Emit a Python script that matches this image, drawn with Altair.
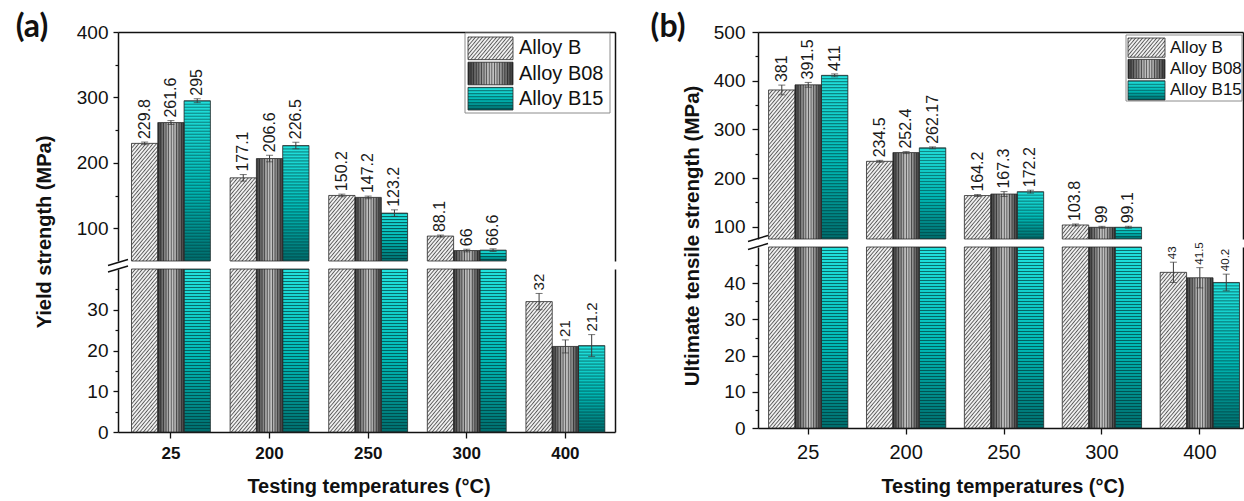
import base64
import altair as alt
import pandas as pd

# ---------------- data ----------------
temps = ["25", "200", "250", "300", "400"]
alloys = ["Alloy B", "Alloy B08", "Alloy B15"]

ys_b = [229.8, 177.1, 150.2, 88.1, 32]
ys_b08 = [261.6, 206.6, 147.2, 66, 21]
ys_b15 = [295, 226.5, 123.2, 66.6, 21.2]
ys_err_b = [2.0, 5.0, 2.0, 1.5, 2.0]
ys_err_b08 = [3.0, 5.0, 2.0, 2.0, 1.6]
ys_err_b15 = [3.0, 5.0, 5.0, 2.0, 2.7]

uts_b = [381, 234.5, 164.2, 103.8, 43]
uts_b08 = [391.5, 252.4, 167.3, 99, 41.5]
uts_b15 = [411, 262.17, 172.2, 99.1, 40.2]
uts_err_b = [10.0, 2.0, 2.0, 2.0, 2.8]
uts_err_b08 = [5.0, 2.0, 5.0, 2.0, 2.8]
uts_err_b15 = [3.0, 2.0, 3.0, 2.0, 2.3]

rows = []
for panel, vals, errs in [
    ("a", [ys_b, ys_b08, ys_b15], [ys_err_b, ys_err_b08, ys_err_b15]),
    ("b", [uts_b, uts_b08, uts_b15], [uts_err_b, uts_err_b08, uts_err_b15]),
]:
    for alloy, vs, es in zip(alloys, vals, errs):
        for t, v, e in zip(temps, vs, es):
            rows.append({"panel": panel, "temp": t, "alloy": alloy,
                         "value": v, "err": e, "label": str(v)})
df = pd.DataFrame(rows)
deco = pd.DataFrame({"k": [0]})

# ---------------- styles ----------------
FONT = "Arial, 'Liberation Sans', sans-serif"
W, H = 1244, 501
INK = "#111111"


def svg_uri(body):
    svg = '<svg xmlns="http://www.w3.org/2000/svg">' + body + "</svg>"
    return "data:image/svg+xml;base64," + base64.b64encode(svg.encode()).decode()


PAT = {
    "Alloy B": svg_uri(
        '<defs><pattern id="p" width="2.7" height="2.7" patternUnits="userSpaceOnUse" '
        'patternTransform="rotate(40)"><rect width="2.7" height="2.7" fill="#efefef"/>'
        '<rect width="0.9" height="2.7" fill="#5a5a5a"/></pattern></defs>'
        '<rect width="100%" height="100%" fill="url(#p)"/>'),
    "Alloy B08": svg_uri(
        '<defs><linearGradient id="g" x1="0" y1="0" x2="1" y2="0">'
        '<stop offset="0" stop-color="#3a3a3a"/><stop offset="0.45" stop-color="#bcbcbc"/>'
        '<stop offset="0.6" stop-color="#c2c2c2"/><stop offset="1" stop-color="#383838"/></linearGradient>'
        '<pattern id="p" width="2.6" height="8" patternUnits="userSpaceOnUse">'
        '<rect width="0.8" height="8" fill="#161616" fill-opacity="0.7"/></pattern></defs>'
        '<rect width="100%" height="100%" fill="url(#g)"/>'
        '<rect width="100%" height="100%" fill="url(#p)"/>'),
    "Alloy B15": svg_uri(
        '<defs><linearGradient id="g" x1="0" y1="0" x2="0" y2="1">'
        '<stop offset="0" stop-color="#22e2de"/><stop offset="0.55" stop-color="#00b8b4"/>'
        '<stop offset="1" stop-color="#006c6c"/></linearGradient>'
        '<pattern id="p" width="8" height="3" patternUnits="userSpaceOnUse">'
        '<rect width="8" height="0.9" fill="#003636" fill-opacity="0.75"/></pattern></defs>'
        '<rect width="100%" height="100%" fill="url(#g)"/>'
        '<rect width="100%" height="100%" fill="url(#p)"/>'),
}
FLAT = ["#cfcfcf", "#7c7c7c", "#14a8a8"]

PANELS = {
    "a": dict(x=(118, 615), pi=0.2, po=0.12, align=0.57,
              up_dom=(50, 400), up_rng=(261, 32), lo_dom=(0, 40), lo_rng=(432, 269),
              up_major=[100, 200, 300, 400], up_minor=[150, 250, 350],
              lo_major=[0, 10, 20, 30], lo_minor=[5, 15, 25, 35],
              ytick=5, ylab=19, ypad=5, xlab=17, xweight="bold", xpad=7,
              lab_up=16, lab_lo=15),
    "b": dict(x=(758, 1243), pi=0.19, po=0.072, align=0.75,
              up_dom=(75, 500), up_rng=(239, 32), lo_dom=(0, 50), lo_rng=(428, 247),
              up_major=[100, 200, 300, 400, 500], up_minor=[150, 250, 350, 450],
              lo_major=[0, 10, 20, 30, 40], lo_minor=[5, 15, 25, 35, 45],
              ytick=6, ylab=19, ypad=7, xlab=20, xweight="normal", xpad=8,
              lab_up=16, lab_lo=11.5),
}


def segment(p, upper):
    P = PANELS[p]
    x0, x1 = P["x"]
    dom = P["up_dom"] if upper else P["lo_dom"]
    rng = P["up_rng"] if upper else P["lo_rng"]
    major = P["up_major"] if upper else P["lo_major"]
    minor = P["up_minor"] if upper else P["lo_minor"]

    src = alt.Chart(df).transform_filter(alt.datum.panel == p)
    xscale = alt.Scale(domain=temps, range=[x0, x1], paddingInner=P["pi"],
                       paddingOuter=P["po"], align=P["align"])
    if upper:
        X = alt.X("temp:N", sort=temps, scale=xscale, axis=None)
    else:
        X = alt.X("temp:N", sort=temps, scale=xscale, title=None,
                  axis=alt.Axis(orient="bottom", offset=rng[0] - H, tickSize=6,
                                tickWidth=1.3, tickColor=INK, domainColor=INK,
                                domainWidth=1.5, labelFont=FONT, labelColor=INK,
                                labelFontSize=P["xlab"], labelFontWeight=P["xweight"],
                                labelPadding=P["xpad"], labelAngle=0, grid=False))
    XO = alt.XOffset("alloy:N", sort=alloys,
                     scale=alt.Scale(domain=alloys, paddingInner=0, paddingOuter=0))
    yscale = alt.Scale(domain=list(dom), range=list(rng), clamp=True, nice=False, zero=False)
    yaxis = alt.Axis(orient="left", offset=-x0, values=major, tickSize=P["ytick"],
                     tickWidth=1.3, tickColor=INK, domainColor=INK, domainWidth=1.5,
                     labelFont=FONT, labelColor=INK, labelFontSize=P["ylab"],
                     labelPadding=P["ypad"], grid=False)

    def Y(field):
        return alt.Y(field + ":Q", scale=yscale, axis=yaxis, title=None)

    bars = src.transform_filter(alt.datum.value > dom[0]) if upper else src
    base = alt.datum(dom[0])
    layers = [
        bars.mark_bar().encode(
            x=X, xOffset=XO, y=Y("value"), y2=base,
            color=alt.Color("alloy:N", scale=alt.Scale(domain=alloys, range=FLAT), legend=None)),
    ]
    for a in alloys:
        layers.append(
            bars.transform_filter(alt.datum.alloy == a).mark_image(aspect=False).encode(
                x=X, xOffset=XO, y=Y("value"), y2=base, url=alt.value(PAT[a])))
    layers.append(
        bars.mark_bar(fillOpacity=0, stroke="#2a2a2a", strokeWidth=0.8).encode(
            x=X, xOffset=XO, y=Y("value"), y2=base))

    lab = (src.transform_filter(alt.datum.value > dom[0]) if upper
           else src.transform_filter(alt.datum.value <= dom[1]))
    lab = lab.transform_calculate(lo="datum.value - datum.err", hi="datum.value + datum.err")
    layers += [
        lab.mark_rule(color="#3a3a3a", strokeWidth=1).encode(
            x=X, xOffset=XO, y=Y("lo"), y2=alt.Y2("hi:Q")),
        lab.mark_tick(color="#3a3a3a", thickness=1, size=7, orient="horizontal").encode(
            x=X, xOffset=XO, y=Y("hi")),
        lab.mark_tick(color="#3a3a3a", thickness=1, size=7, orient="horizontal").encode(
            x=X, xOffset=XO, y=Y("lo")),
        lab.mark_text(angle=270, align="left", baseline="middle", dx=3, font=FONT,
                      fontSize=P["lab_up"] if upper else P["lab_lo"], color="#1a1a1a").encode(
            x=X, xOffset=XO, y=Y("hi"), text="label:N"),
    ]
    out = [alt.layer(*layers)]

    # minor ticks
    out.append(src.mark_point(opacity=0).encode(
        y=alt.Y("value:Q", scale=yscale, title=None,
                axis=alt.Axis(orient="left", offset=-x0, values=minor, tickSize=3,
                              tickWidth=1.2, tickColor=INK, labels=False, domain=False,
                              grid=False))))
    # right frame
    out.append(src.mark_point(opacity=0).encode(
        y=alt.Y("value:Q", scale=yscale, title=None,
                axis=alt.Axis(orient="right", offset=x1 - W, ticks=False, labels=False,
                              domainColor=INK, domainWidth=1.5, grid=False))))
    if upper:
        out.append(src.mark_point(opacity=0).encode(
            x=alt.X("temp:N", sort=temps, scale=xscale, title=None,
                    axis=alt.Axis(orient="top", offset=-rng[1], ticks=False, labels=False,
                                  domainColor=INK, domainWidth=1.5, grid=False))))
    return out


LEG = {
    "a": dict(box=(465, 610, 33, 113), sw=(468, 513), rows=(37, 110), tx=519, fs=20),
    "b": dict(box=(1126, 1242, 35, 101), sw=(1128, 1165), rows=(38, 100), tx=1170, fs=17),
}


def legend(p):
    L = LEG[p]
    bx0, bx1, by0, by1 = L["box"]
    sx0, sx1 = L["sw"]
    lsrc = alt.Chart(pd.DataFrame({"alloy": alloys}))
    LY = alt.Y("alloy:N", sort=alloys, axis=None,
               scale=alt.Scale(domain=alloys, range=list(L["rows"]), paddingInner=0.1,
                               paddingOuter=0))
    parts = [
        alt.Chart(deco).mark_rect(fill="white", stroke="#8c8c8c", strokeWidth=1).encode(
            x=alt.value(bx0), x2=alt.value(bx1), y=alt.value(by0), y2=alt.value(by1)),
        lsrc.mark_rect().encode(
            x=alt.value(sx0), x2=alt.value(sx1), y=LY,
            color=alt.Color("alloy:N", scale=alt.Scale(domain=alloys, range=FLAT), legend=None)),
    ]
    for a in alloys:
        parts.append(lsrc.transform_filter(alt.datum.alloy == a).mark_image(aspect=False).encode(
            x=alt.value(sx0), x2=alt.value(sx1), y=LY, url=alt.value(PAT[a])))
    parts += [
        lsrc.mark_rect(fillOpacity=0, stroke="#2a2a2a", strokeWidth=0.8).encode(
            x=alt.value(sx0), x2=alt.value(sx1), y=LY),
        lsrc.mark_text(align="left", baseline="middle", font=FONT, fontSize=L["fs"],
                       color=INK).encode(x=alt.value(L["tx"]), y=LY, text="alloy:N"),
    ]
    return alt.layer(*parts)


def txt(text, x, y, size, angle=0, font=FONT):
    return alt.Chart(deco).mark_text(
        text=text, font=font, fontSize=size, fontWeight="bold", angle=angle,
        align="center", baseline="middle", color=INK).encode(x=alt.value(x), y=alt.value(y))


def slash(x, y):
    return alt.Chart(deco).mark_rule(color=INK, strokeWidth=1.4).encode(
        x=alt.value(x - 10), x2=alt.value(x + 10), y=alt.value(y + 3), y2=alt.value(y - 3))


layers = []
for p in ["a", "b"]:
    layers += segment(p, True)
    layers += segment(p, False)
    layers.append(legend(p))

layers += [
    slash(118, 262.5), slash(118, 269),
    slash(758, 238.5), slash(758, 246.5),
    txt("Yield strength (MPa)", 45, 232, 20, angle=270),
    txt("Ultimate tensile strength (MPa)", 693, 236, 20.5, angle=270),
    txt("Testing temperatures (°C)", 369, 487, 20),
    txt("Testing temperatures (°C)", 1003, 487, 20),
    txt("(a)", 32, 27, 32, font="Lato"),
    txt("(b)", 668, 27, 32, font="Lato"),
]

chart = alt.layer(*layers).resolve_scale(
    x="independent", y="independent", xOffset="independent", color="independent"
).properties(
    width=W, height=H, autosize=alt.AutoSizeParams(type="none"), padding=0,
    background="white"
).configure_view(stroke=None)

chart.save("out.html", embed_options={"renderer": "svg", "actions": False})
